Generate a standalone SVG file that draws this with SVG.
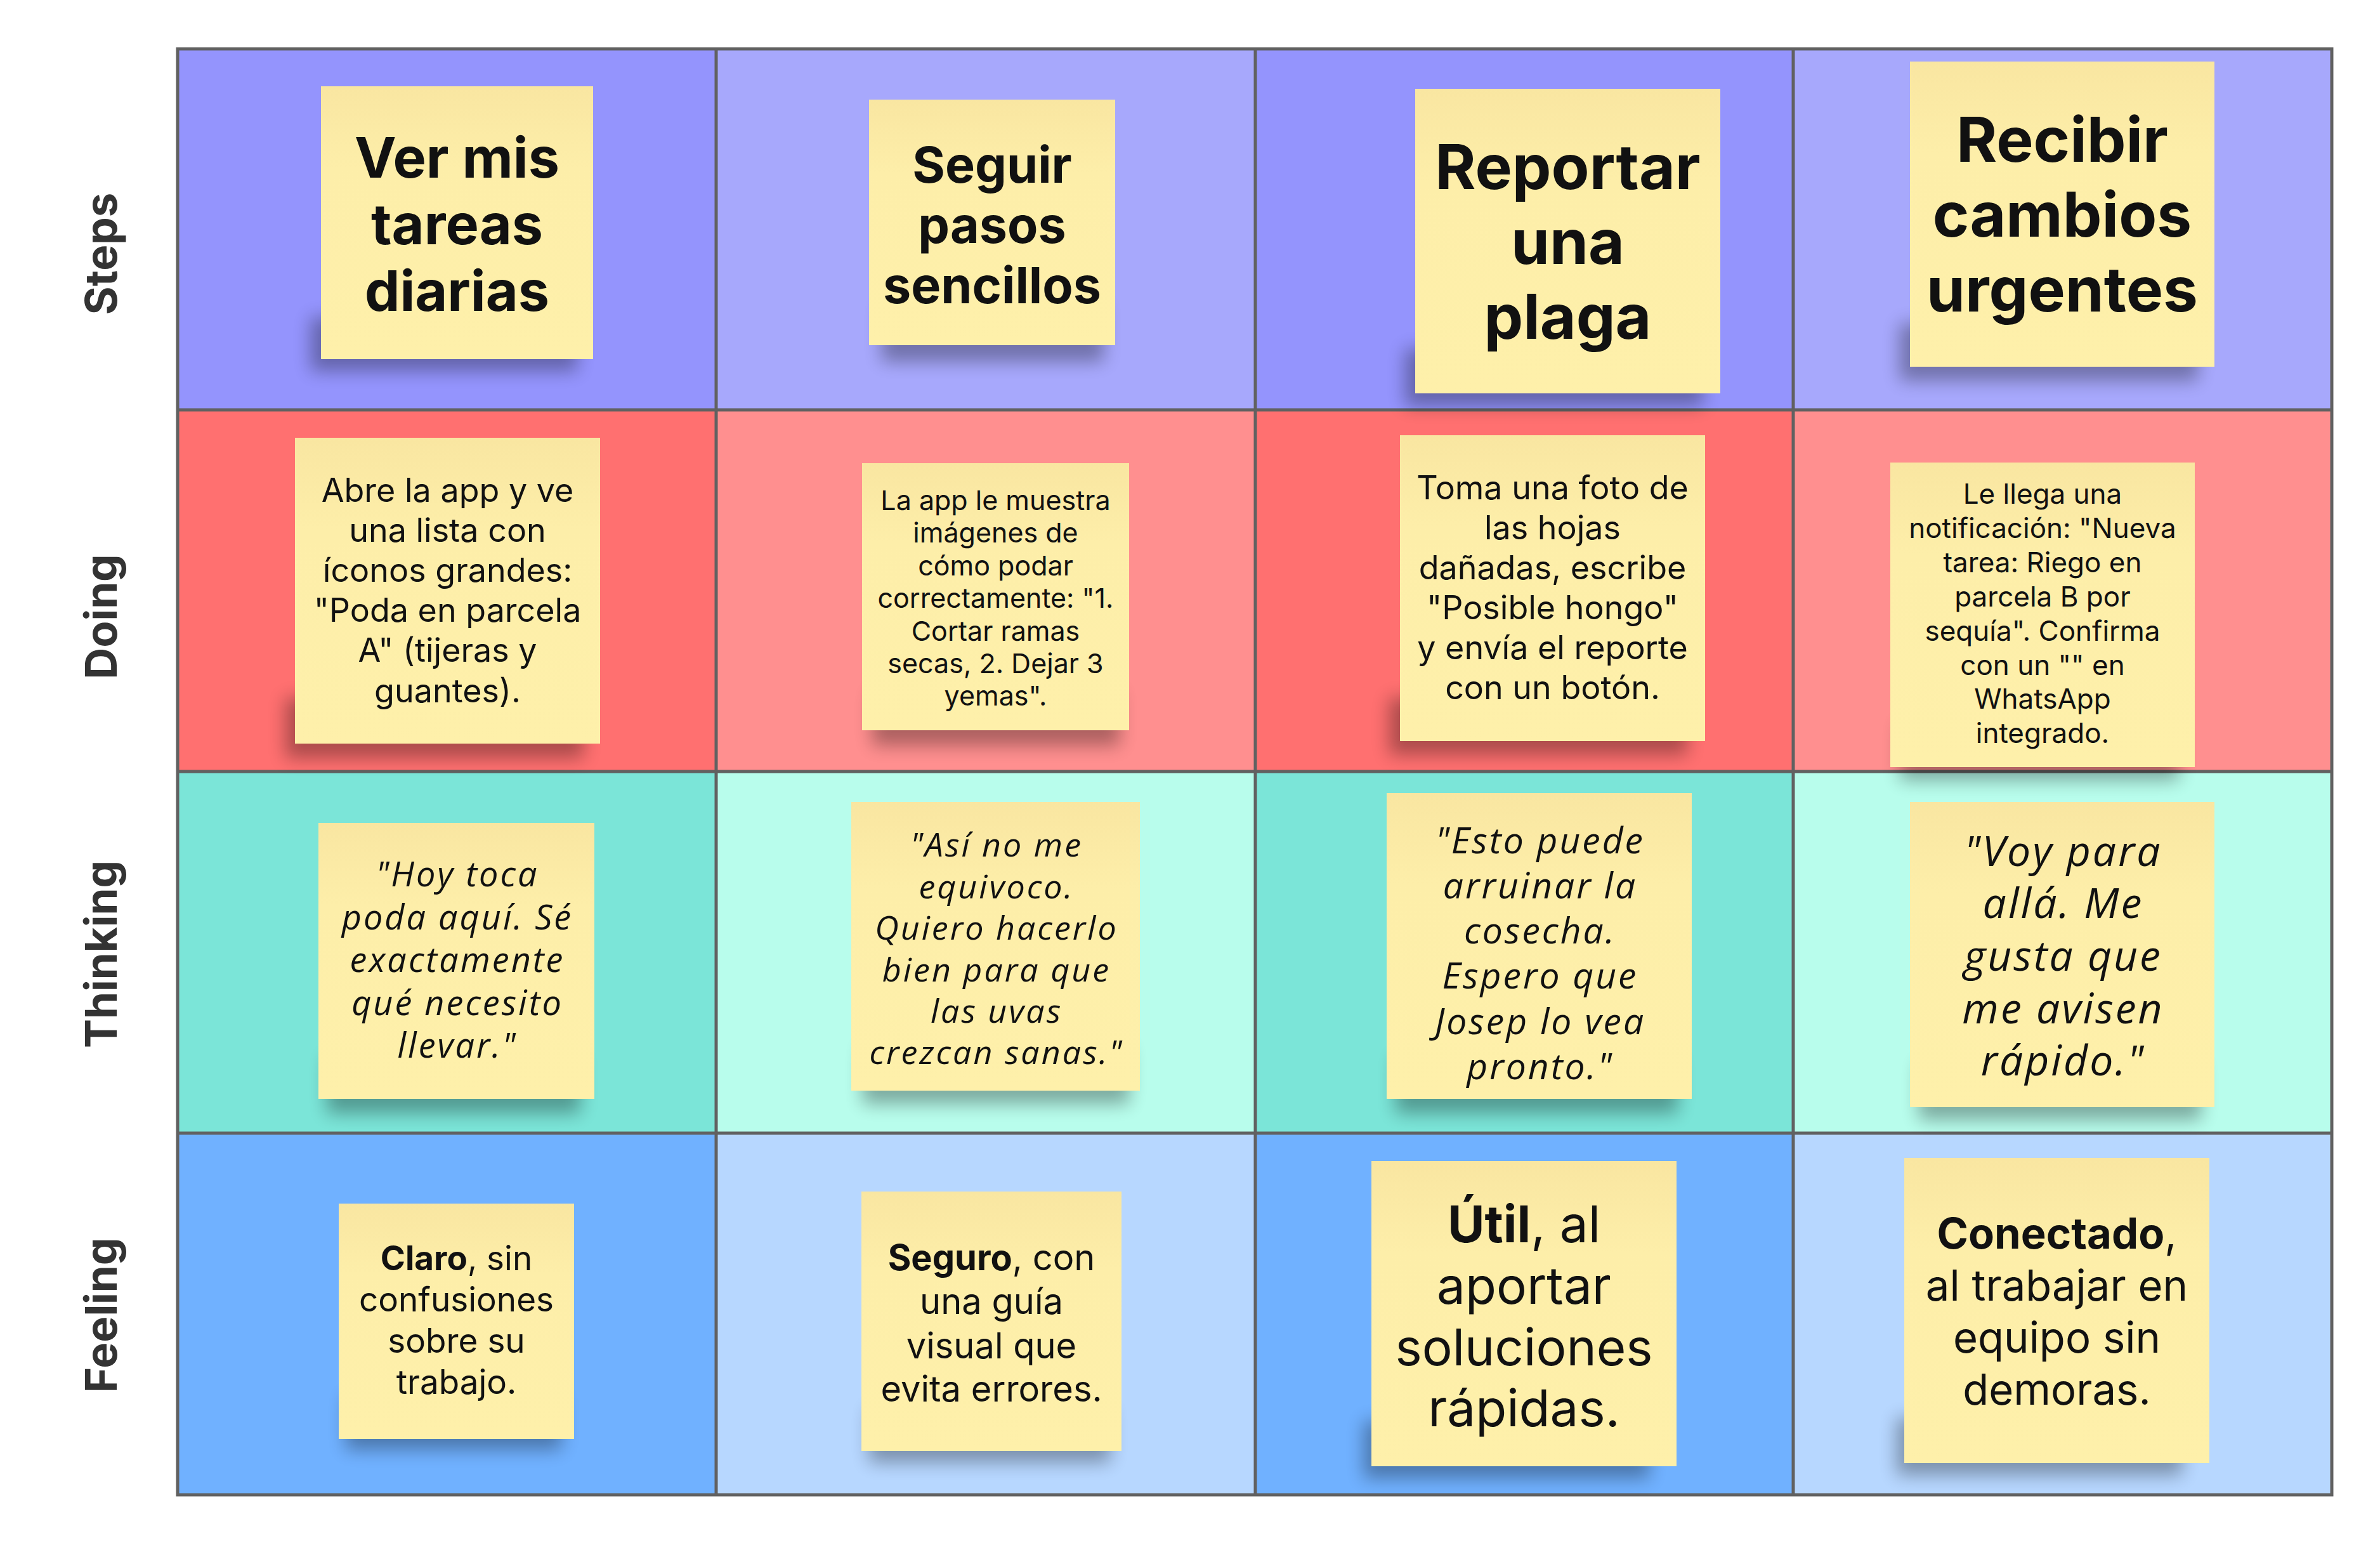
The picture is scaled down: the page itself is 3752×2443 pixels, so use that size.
<svg xmlns="http://www.w3.org/2000/svg" width="3752" height="2443" viewBox="0 0 3752 2443">
<defs>
<linearGradient id="stickyGrad" x1="0" y1="0" x2="0" y2="1">
<stop offset="0" stop-color="#F9E6A1"/>
<stop offset="0.3" stop-color="#FDEEA9"/>
<stop offset="1" stop-color="#FEF0AA"/>
</linearGradient>
<filter id="shadow" x="-30%" y="-100%" width="160%" height="300%">
<feGaussianBlur stdDeviation="14"/>
</filter>
</defs>
<style>
.grid{stroke:#616161;stroke-width:5;fill:none}
.sticky{fill:url(#stickyGrad)}
.shd{fill:#000;opacity:0.32;filter:url(#shadow)}
.lbl{font-family:Inter,"Liberation Sans",sans-serif;font-weight:700;font-size:69px;fill:#333;text-anchor:middle}
.t{font-family:Inter,"Liberation Sans",sans-serif;fill:#111;text-anchor:middle}
.b{font-weight:700}
.i{font-family:"Open Sans","Noto Sans",sans-serif;font-style:italic;letter-spacing:3px}
</style>
<rect width="3752" height="2443" fill="#FFFFFF"/>
<g id="cells">
<rect x="280" y="77" width="849" height="569" fill="#9494FD"/>
<rect x="1129" y="77" width="850" height="569" fill="#A7A8FC"/>
<rect x="1979" y="77" width="848" height="569" fill="#9494FD"/>
<rect x="2827" y="77" width="849" height="569" fill="#A7A8FC"/>
<rect x="280" y="646" width="849" height="570" fill="#FF7070"/>
<rect x="1129" y="646" width="850" height="570" fill="#FF8F8F"/>
<rect x="1979" y="646" width="848" height="570" fill="#FF7070"/>
<rect x="2827" y="646" width="849" height="570" fill="#FF8F8F"/>
<rect x="280" y="1216" width="849" height="570" fill="#7BE5D8"/>
<rect x="1129" y="1216" width="850" height="570" fill="#B8FDEC"/>
<rect x="1979" y="1216" width="848" height="570" fill="#7BE5D8"/>
<rect x="2827" y="1216" width="849" height="570" fill="#B8FDEC"/>
<rect x="280" y="1786" width="849" height="570" fill="#70B1FF"/>
<rect x="1129" y="1786" width="850" height="570" fill="#B7D7FF"/>
<rect x="1979" y="1786" width="848" height="570" fill="#70B1FF"/>
<rect x="2827" y="1786" width="849" height="570" fill="#B7D7FF"/>
</g>
<g id="grid-lines" class="grid">
<rect x="280" y="77" width="3396" height="2279"/>
<line x1="1129" y1="77" x2="1129" y2="2356"/>
<line x1="1979" y1="77" x2="1979" y2="2356"/>
<line x1="2827" y1="77" x2="2827" y2="2356"/>
<line x1="280" y1="646" x2="3676" y2="646"/>
<line x1="280" y1="1216" x2="3676" y2="1216"/>
<line x1="280" y1="1786" x2="3676" y2="1786"/>
</g>
<g id="row-labels">
<text class="lbl" transform="translate(184,400) rotate(-90)">Steps</text>
<text class="lbl" transform="translate(184,972) rotate(-90)">Doing</text>
<text class="lbl" transform="translate(184,1504) rotate(-90)">Thinking</text>
<text class="lbl" transform="translate(184,2073) rotate(-90)">Feeling</text>
</g>
<g id="connectors"></g>

<g id="note-steps-1">
<rect class="shd" x="490" y="500" width="420" height="85"/>
<rect class="sticky" x="506" y="136" width="429" height="430"/>
<text class="t b" font-size="88"><tspan x="720.5" y="280">Ver mis</tspan><tspan x="720.5" y="385">tareas</tspan><tspan x="720.5" y="490">diarias</tspan></text>
</g>
<g id="note-steps-2">
<rect class="shd" x="1390" y="480" width="350" height="90"/>
<rect class="sticky" x="1370" y="157" width="388" height="387"/>
<text class="t b" font-size="79"><tspan x="1564" y="288">Seguir</tspan><tspan x="1564" y="383">pasos</tspan><tspan x="1564" y="478">sencillos</tspan></text>
</g>
<g id="note-steps-3">
<rect class="shd" x="2215" y="550" width="470" height="90"/>
<rect class="sticky" x="2231" y="140" width="481" height="480"/>
<text class="t b" font-size="98"><tspan x="2471.5" y="298">Reportar</tspan><tspan x="2471.5" y="416">una</tspan><tspan x="2471.5" y="534">plaga</tspan></text>
</g>
<g id="note-steps-4">
<rect class="shd" x="2995" y="510" width="470" height="90"/>
<rect class="sticky" x="3011" y="97" width="480" height="481"/>
<text class="t b" font-size="98"><tspan x="3251" y="255">Recibir</tspan><tspan x="3251" y="373">cambios</tspan><tspan x="3251" y="491">urgentes</tspan></text>
</g>

<g id="note-doing-1">
<rect class="shd" x="450" y="1100" width="470" height="95"/>
<rect class="sticky" x="465" y="690" width="481" height="482"/>
<text class="t" font-size="52"><tspan x="705.5" y="791">Abre la app y ve</tspan><tspan x="705.5" y="854">una lista con</tspan><tspan x="705.5" y="917">íconos grandes:</tspan><tspan x="705.5" y="980">"Poda en parcela</tspan><tspan x="705.5" y="1043">A" (tijeras y</tspan><tspan x="705.5" y="1107">guantes).</tspan></text>
</g>
<g id="note-doing-2">
<rect class="shd" x="1375" y="1090" width="390" height="85"/>
<rect class="sticky" x="1359" y="730" width="421" height="421"/>
<text class="t" font-size="43"><tspan x="1569.5" y="804">La app le muestra</tspan><tspan x="1569.5" y="855">imágenes de</tspan><tspan x="1569.5" y="907">cómo podar</tspan><tspan x="1569.5" y="958">correctamente: "1.</tspan><tspan x="1569.5" y="1010">Cortar ramas</tspan><tspan x="1569.5" y="1061">secas, 2. Dejar 3</tspan><tspan x="1569.5" y="1112">yemas".</tspan></text>
</g>
<g id="note-doing-3">
<rect class="shd" x="2190" y="1100" width="470" height="90"/>
<rect class="sticky" x="2207" y="686" width="481" height="482"/>
<text class="t" font-size="52"><tspan x="2447.5" y="787">Toma una foto de</tspan><tspan x="2447.5" y="850">las hojas</tspan><tspan x="2447.5" y="913">dañadas, escribe</tspan><tspan x="2447.5" y="976">"Posible hongo"</tspan><tspan x="2447.5" y="1039">y envía el reporte</tspan><tspan x="2447.5" y="1102">con un botón.</tspan></text>
</g>
<g id="note-doing-4">
<rect class="shd" x="2995" y="1140" width="440" height="90"/>
<rect class="sticky" x="2980" y="729" width="480" height="480"/>
<text class="t" font-size="44"><tspan x="3220" y="794">Le llega una</tspan><tspan x="3220" y="848">notificación: "Nueva</tspan><tspan x="3220" y="902">tarea: Riego en</tspan><tspan x="3220" y="956">parcela B por</tspan><tspan x="3220" y="1010">sequía". Confirma</tspan><tspan x="3220" y="1064">con un "" en</tspan><tspan x="3220" y="1117">WhatsApp</tspan><tspan x="3220" y="1171">integrado.</tspan></text>
</g>

<g id="note-thinking-1">
<rect class="shd" x="515" y="1665" width="400" height="90"/>
<rect class="sticky" x="502" y="1297" width="435" height="435"/>
<text class="t i" font-size="54"><tspan x="721" y="1397">"Hoy toca</tspan><tspan x="721" y="1465">poda aquí. Sé</tspan><tspan x="721" y="1532">exactamente</tspan><tspan x="721" y="1600">qué necesito</tspan><tspan x="721" y="1667">llevar."</tspan></text>
</g>
<g id="note-thinking-2">
<rect class="shd" x="1360" y="1650" width="420" height="90"/>
<rect class="sticky" x="1342" y="1264" width="455" height="455"/>
<text class="t i" font-size="52"><tspan x="1571" y="1350">"Así no me</tspan><tspan x="1571" y="1416">equivoco.</tspan><tspan x="1571" y="1481">Quiero hacerlo</tspan><tspan x="1571" y="1547">bien para que</tspan><tspan x="1571" y="1612">las uvas</tspan><tspan x="1571" y="1677">crezcan sanas."</tspan></text>
</g>
<g id="note-thinking-3">
<rect class="shd" x="2200" y="1665" width="445" height="90"/>
<rect class="sticky" x="2186" y="1250" width="481" height="482"/>
<text class="t i" font-size="57"><tspan x="2428" y="1345">"Esto puede</tspan><tspan x="2428" y="1416">arruinar la</tspan><tspan x="2428" y="1487">cosecha.</tspan><tspan x="2428" y="1558">Espero que</tspan><tspan x="2428" y="1630">Josep lo vea</tspan><tspan x="2428" y="1701">pronto."</tspan></text>
</g>
<g id="note-thinking-4">
<rect class="shd" x="3025" y="1675" width="445" height="90"/>
<rect class="sticky" x="3011" y="1264" width="480" height="481"/>
<text class="t i" font-size="66"><tspan x="3252.5" y="1365">"Voy para</tspan><tspan x="3252.5" y="1447">allá. Me</tspan><tspan x="3252.5" y="1530">gusta que</tspan><tspan x="3252.5" y="1613">me avisen</tspan><tspan x="3252.5" y="1695">rápido."</tspan></text>
</g>

<g id="note-feeling-1">
<rect class="shd" x="545" y="2200" width="340" height="85"/>
<rect class="sticky" x="534" y="1897" width="371" height="371"/>
<text class="t" font-size="53"><tspan x="719.5" y="2002"><tspan class="b">Claro</tspan>, sin</tspan><tspan x="719.5" y="2067">confusiones</tspan><tspan x="719.5" y="2132">sobre su</tspan><tspan x="719.5" y="2197">trabajo.</tspan></text>
</g>
<g id="note-feeling-2">
<rect class="shd" x="1370" y="2220" width="380" height="85"/>
<rect class="sticky" x="1358" y="1878" width="410" height="409"/>
<text class="t" font-size="56"><tspan x="1563" y="2002"><tspan class="b">Seguro</tspan>, con</tspan><tspan x="1563" y="2071">una guía</tspan><tspan x="1563" y="2141">visual que</tspan><tspan x="1563" y="2209">evita errores.</tspan></text>
</g>
<g id="note-feeling-3">
<rect class="shd" x="2150" y="2240" width="450" height="90"/>
<rect class="sticky" x="2162" y="1830" width="481" height="481"/>
<text class="t" font-size="80"><tspan x="2402.5" y="1958"><tspan class="b">Útil</tspan>, al</tspan><tspan x="2402.5" y="2055">aportar</tspan><tspan x="2402.5" y="2152">soluciones</tspan><tspan x="2402.5" y="2248">rápidas.</tspan></text>
</g>
<g id="note-feeling-4">
<rect class="shd" x="2990" y="2235" width="450" height="90"/>
<rect class="sticky" x="3002" y="1825" width="481" height="481"/>
<text class="t" font-size="67"><tspan x="3242.5" y="1968"><tspan class="b">Conectado</tspan>,</tspan><tspan x="3242.5" y="2050">al trabajar en</tspan><tspan x="3242.5" y="2132">equipo sin</tspan><tspan x="3242.5" y="2214">demoras.</tspan></text>
</g>
</svg>
